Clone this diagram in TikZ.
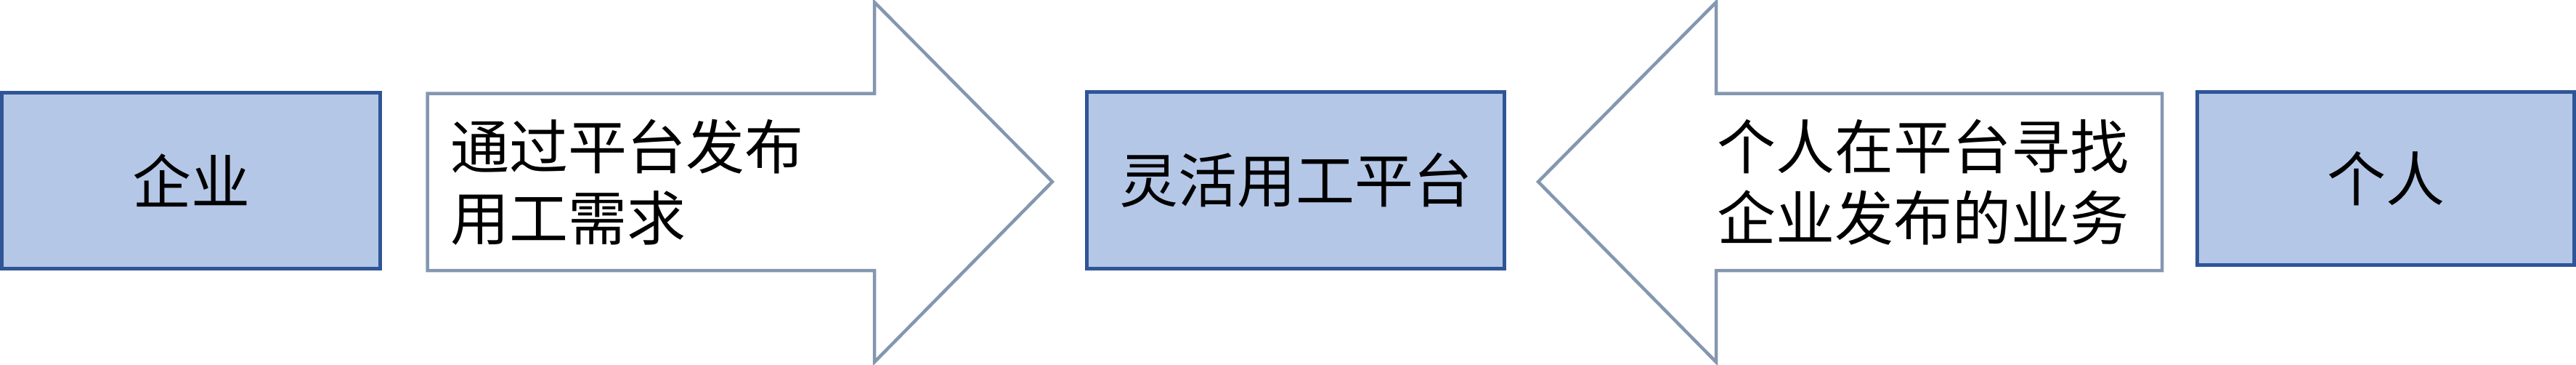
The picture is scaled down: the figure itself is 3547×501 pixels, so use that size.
\documentclass[tikz,border=0pt]{standalone}
\usepackage{fontspec}
\newfontfamily\cjk{Noto Sans CJK SC}
\definecolor{boxfill}{HTML}{B4C7E7}
\definecolor{boxline}{HTML}{2F5597}
\definecolor{arrowline}{HTML}{8497B0}
\tikzstyle{bluebox}=[draw=boxline, fill=boxfill, line width=5pt, inner sep=0, font=\cjk\fontsize{81}{98}\selectfont]
\tikzstyle{bigarrow}=[draw=arrowline, fill=white, line width=4.5pt, line join=miter]
\tikzstyle{arrowtext}=[anchor=north west, inner sep=0, align=left, font=\cjk\fontsize{81}{98}\selectfont]
\begin{document}
\begin{tikzpicture}[x=1pt, y=-1pt]
  \useasboundingbox (0,0) rectangle (3547,501);
  \node[bluebox, minimum width=521pt, minimum height=242pt] (qiye) at (263,248.5) {企业};
  \node[bluebox, minimum width=575pt, minimum height=243pt] (pingtai) at (1784,248) {灵活用工平台};
  \node[bluebox, minimum width=519pt, minimum height=238pt] (geren) at (3285,245.5) {个人};

  \draw[bigarrow] (588.5,128.5) -- (1204,128.5) -- (1204,3) -- (1449,250) -- (1204,498) -- (1204,372) -- (588.5,372) -- cycle;
  \draw[bigarrow] (2977,128.5) -- (2363,128.5) -- (2363,3) -- (2118,250) -- (2363,498) -- (2363,372) -- (2977,372) -- cycle;

  \node[arrowtext] (xuqiu) at (620,164) {通过平台发布\\用工需求};
  \node[arrowtext] (yewu) at (2364,164) {个人在平台寻找\\企业发布的业务};
\end{tikzpicture}
\end{document}
